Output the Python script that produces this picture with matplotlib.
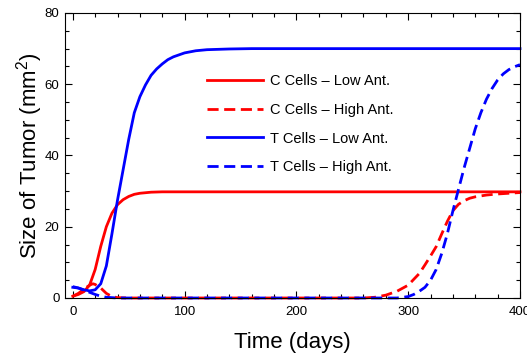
import matplotlib
matplotlib.use("Agg")
import matplotlib.pyplot as plt
from matplotlib.ticker import MultipleLocator

plt.rcParams['font.family'] = ['Liberation Sans', 'DejaVu Sans']
plt.rcParams['mathtext.fontset'] = 'custom'
plt.rcParams['mathtext.rm'] = 'Liberation Sans'

# C cells, low antigenicity
t_c_low = [0, 5, 10, 15, 20, 25, 30, 35, 40, 45, 50, 55, 60, 70, 80, 100, 150, 200, 300, 400]
v_c_low = [0.5, 1.0, 1.8, 3.6, 8.0, 14.5, 20.0, 23.8, 26.2, 27.6, 28.5, 29.1, 29.4, 29.7, 29.8,
           29.8, 29.8, 29.8, 29.8, 29.8]

# C cells, high antigenicity
t_c_high = [0, 5, 10, 15, 18, 20, 25, 30, 35, 40, 50, 100, 200, 260, 270, 280, 290, 300, 310,
            315, 320, 325, 330, 335, 340, 345, 350, 355, 360, 370, 380, 390, 400]
v_c_high = [0.5, 1.3, 2.5, 3.6, 4.0, 3.8, 2.8, 1.3, 0.4, 0.1, 0, 0, 0, 0, 0.2, 0.8, 1.9, 3.6, 6.9,
            9.3, 11.8, 14.4, 18.0, 21.5, 24.5, 26.3, 27.3, 28.0, 28.4, 28.9, 29.2, 29.4, 29.6]

# T cells, low antigenicity
t_t_low = [0, 5, 10, 15, 20, 25, 30, 35, 40, 45, 50, 55, 60, 65, 70, 75, 80, 85, 90, 100, 110,
           120, 140, 160, 200, 300, 400]
v_t_low = [3.0, 2.8, 2.3, 2.0, 2.3, 4.0, 9.0, 18.0, 27.5, 36.0, 44.5, 52.0, 56.5, 59.8, 62.5,
           64.3, 65.7, 66.9, 67.7, 68.8, 69.4, 69.7, 69.9, 70.0, 70.0, 70.0, 70.0]

# T cells, high antigenicity
t_t_high = [0, 5, 10, 15, 20, 25, 30, 40, 100, 200, 290, 300, 305, 310, 315, 320, 325, 330, 335,
            340, 345, 350, 355, 360, 365, 370, 375, 380, 385, 390, 395, 400]
v_t_high = [3.2, 2.8, 2.2, 1.6, 1.0, 0.5, 0.2, 0, 0, 0, 0, 0.4, 1.0, 1.9, 3.0, 5.0, 8.0, 12.5, 18.0,
            24.5, 30.5, 36.5, 42.0, 47.5, 52.0, 55.8, 58.8, 61.2, 62.9, 64.1, 64.9, 65.5]

fig = plt.figure(figsize=(5.27, 3.58), dpi=100)
ax = fig.add_axes([0.1233, 0.1676, 0.8634, 0.7961])

lw = 2.0
dash = (4, 2)
ax.plot(t_c_low, v_c_low, color='#ff0000', lw=lw, label='C Cells \u2013 Low Ant.', clip_on=False)
ax.plot(t_c_high, v_c_high, color='#ff0000', lw=lw, ls=(0, dash), label='C Cells \u2013 High Ant.',
        clip_on=False)
ax.plot(t_t_low, v_t_low, color='#0000ff', lw=lw, label='T Cells \u2013 Low Ant.', clip_on=False)
ax.plot(t_t_high, v_t_high, color='#0000ff', lw=lw, ls=(0, dash), label='T Cells \u2013 High Ant.',
        clip_on=False)

ax.set_xlim(-7, 400)
ax.set_ylim(0, 80)
ax.set_xticks([0, 100, 200, 300, 400])
ax.set_yticks([0, 20, 40, 60, 80])
ax.xaxis.set_minor_locator(MultipleLocator(20))
ax.yaxis.set_minor_locator(MultipleLocator(5))
ax.tick_params(which='both', direction='in', top=True, right=True, labelsize=9.5, width=0.8)
ax.tick_params(which='major', length=5)
ax.tick_params(axis='x', which='major', pad=6)
ax.tick_params(axis='y', which='major', pad=4)
ax.tick_params(which='minor', length=3)
for s in ax.spines.values():
    s.set_linewidth(0.8)

ax.set_xlabel('Time (days)', fontsize=16, labelpad=10)
ax.set_ylabel('Size of Tumor (mm$^2$)', fontsize=16, labelpad=0)

ax.legend(loc='upper left', bbox_to_anchor=(0.30, 0.805), frameon=False, fontsize=10.5,
          handlelength=3.8, handletextpad=0.5, labelspacing=1.0, borderaxespad=0)

fig.savefig('out.png', dpi=100)
